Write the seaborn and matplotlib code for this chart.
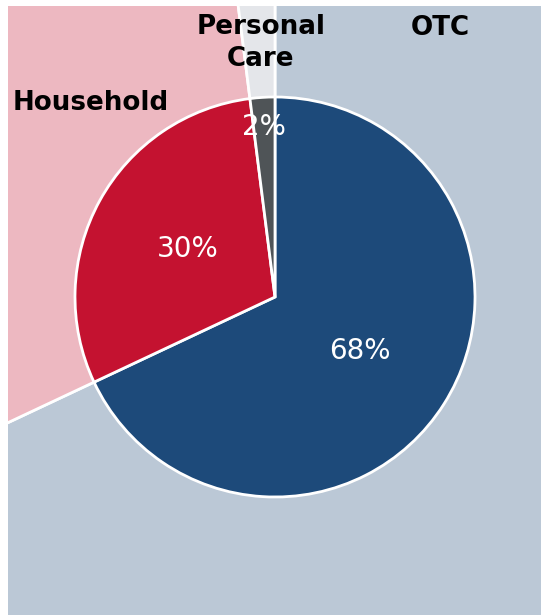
import matplotlib
matplotlib.use("Agg")
import matplotlib.pyplot as plt
import seaborn as sns

sns.set_style("white")
plt.rcParams['font.family'] = ['DejaVu Sans']

categories = ["OTC", "Household", "Personal\nCare"]
shares = [68, 30, 2]
dark_colors = ["#1D4A7A", "#C41230", "#4F5457"]
light_colors = ["#BBC8D6", "#EDB8C1", "#E4E6EA"]

# label positions (x, y) in data units around the pie
label_pos = [(0.825, 1.345), (-0.92, 0.97), (-0.07, 1.27)]

fig = plt.figure(figsize=(5.41, 6.15), dpi=100)
W, H = 541, 615
ax = fig.add_axes([8 / W, 0, (W - 8) / W, (H - 6) / H])

pal_dark = sns.color_palette(dark_colors)
pal_light = sns.color_palette(light_colors)

# large tinted background pie, clipped by the axes
outer, _ = ax.pie(shares, colors=pal_light, startangle=90, counterclock=False,
                  radius=4, wedgeprops=dict(edgecolor="white", linewidth=2))
for w in outer:
    w.set_clip_on(True)

inner, _, autotexts = ax.pie(shares, colors=pal_dark, startangle=90, counterclock=False,
                             radius=1, autopct=lambda p: f"{p:.0f}%", pctdistance=0.5,
                             wedgeprops=dict(edgecolor="white", linewidth=2),
                             textprops=dict(color="white", fontsize=20))
# move the thin slice's label outward
x, y = autotexts[2].get_position()
autotexts[2].set_position((x * 1.7, y * 1.7))

for name, (lx, ly) in zip(categories, label_pos):
    ax.text(lx, ly, name, ha="center", va="center", fontsize=18.8,
            fontweight="bold", color="black", linespacing=1.3)

s = 200.0
ax.set_xlim((8 - 275) / s, (541 - 275) / s)
ax.set_ylim(-(615 - 297) / s, (297 - 6) / s)
ax.set_aspect("equal")
ax.axis("off")

fig.savefig("out.png", dpi=100)
